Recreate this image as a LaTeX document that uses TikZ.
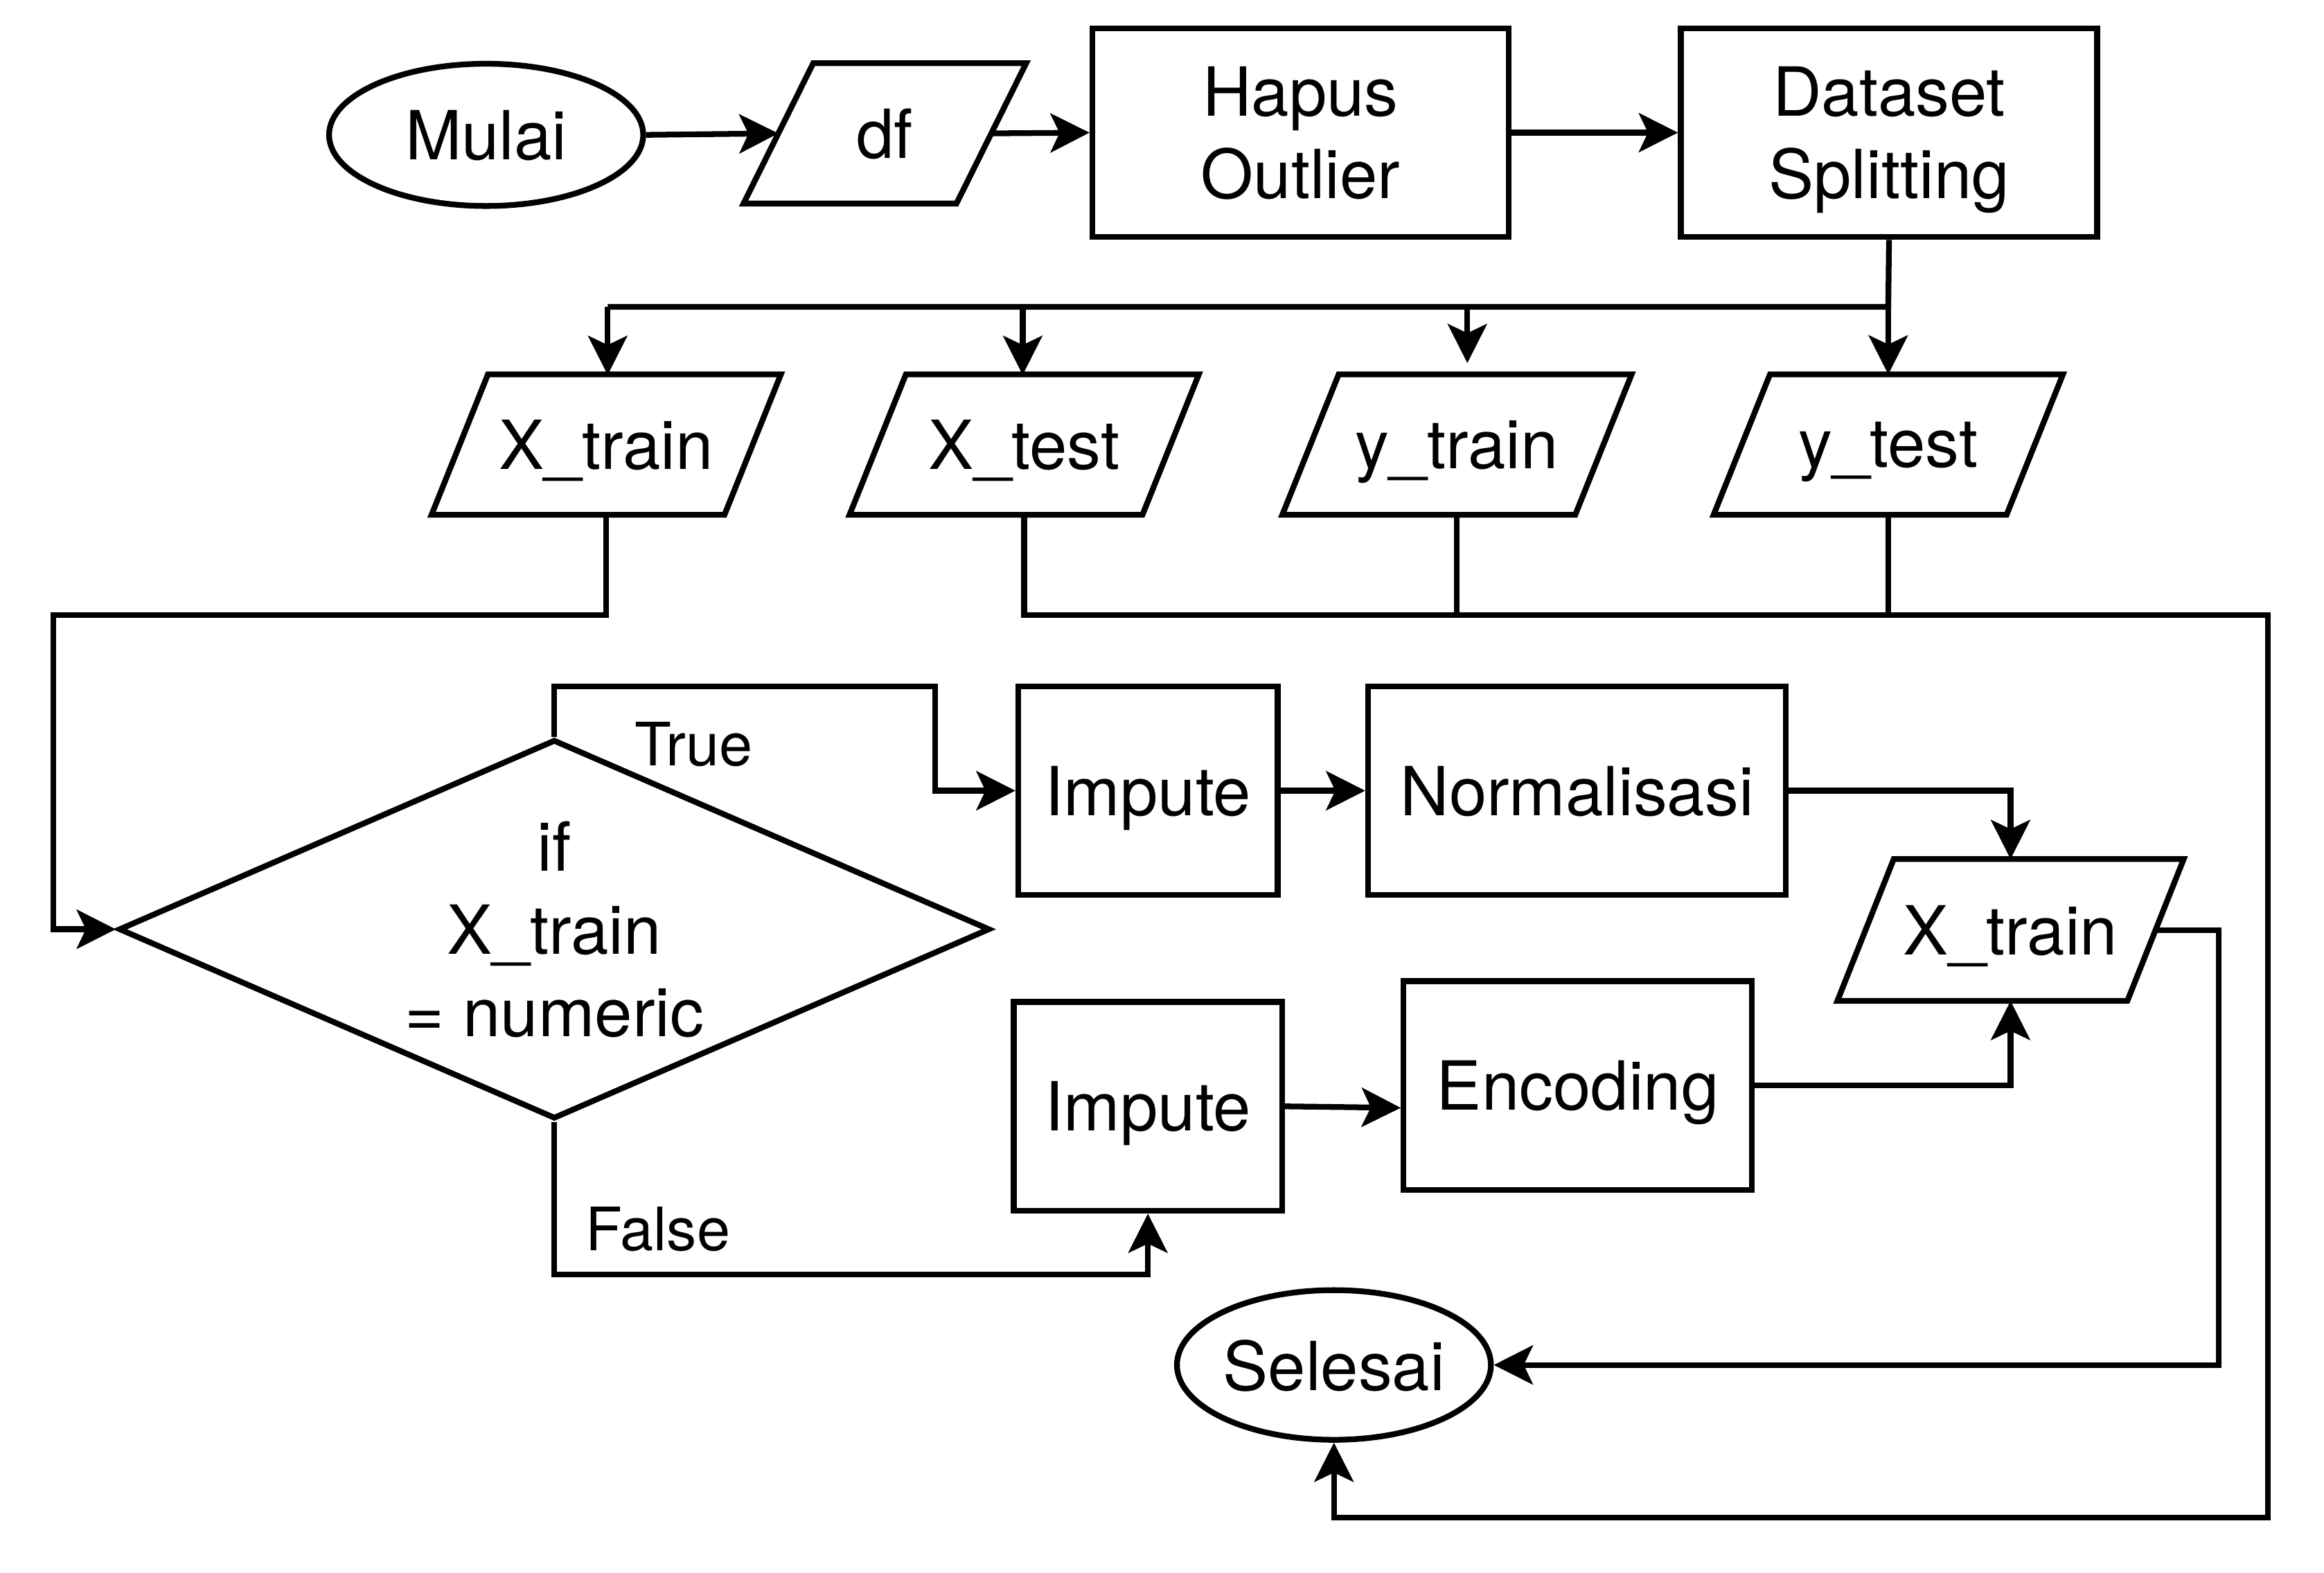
\documentclass[tikz,border=0pt]{standalone}
\usepackage{fontspec}
\setmainfont{TeX Gyre Heros}
\usetikzlibrary{shapes.geometric,arrows.meta,calc}
\begin{document}
\begin{tikzpicture}[x=0.02cm,y=-0.02cm,
  every node/.style={font=\fontsize{26}{31.8}\selectfont, inner sep=0pt, align=center, text depth=0pt},
  ln/.style={line width=2.2pt},
  arr/.style={ln,-{Stealth[length=15pt,width=15pt,inset=3.5pt]}},
  box/.style={draw, line width=2.2pt, minimum height=2.82cm},
  term/.style={draw, line width=2.2pt, ellipse},
  para/.style={minimum width=4.7cm, minimum height=1.88cm},
  lbl/.style={font=\fontsize{23}{27}\selectfont}
]
\useasboundingbox (0,0) rectangle (1568,1061);

% nodes
\node[term, minimum width=4.24cm, minimum height=1.92cm] (mulai) at (328,91) {Mulai};
\node[minimum width=3.8cm, minimum height=1.88cm] (df) at (597,90) {df};
\node[box, minimum width=5.62cm] (hapus) at (877.5,89.5) {Hapus\\Outlier};
\node[box, minimum width=5.62cm] (dataset) at (1274.5,89.5) {Dataset\\Splitting};

\node[para] (xtr) at (409,300) {X\_train};
\node[para] (xte) at (691,300) {X\_test};
\node[para] (ytr) at (983,300) {y\_train};
\node[para] (yte) at (1274,300) {y\_test};

\node[draw, line width=2.2pt, diamond, shape aspect=2.3, minimum width=11.76cm, minimum height=5.12cm] (dia) at (374,627) {if\\X\_train\\= numeric};

\node[box, minimum width=3.5cm] (imp1) at (774.5,533.5) {Impute};
\node[box, minimum width=5.64cm] (norm) at (1064,533.5) {Normalisasi};
\node[box, minimum width=3.62cm] (imp2) at (774.5,746.5) {Impute};
\node[box, minimum width=4.7cm] (enc) at (1064.5,732.5) {Encoding};
\node[minimum width=4.66cm, minimum height=1.9cm] (xtr2) at (1356.5,627.5) {X\_train};
\node[term, minimum width=4.2cm, minimum height=2.02cm] (sel) at (900,921) {Selesai};

\node[lbl] (ltrue) at (468,502) {True};
\node[lbl] (lfalse) at (444,829) {False};

% parallelogram outlines
\foreach \n/\s in {df/47, xtr/38, xte/38, ytr/38, yte/38, xtr2/38}
  \draw[ln] ($(\n.north west)+(\s,0)$) -- (\n.north east) -- ($(\n.south east)-(\s,0)$) -- (\n.south west) -- cycle;

% connectors
\draw[arr] (mulai.east) -- ($(df.west)+(23.5,0)$);
\draw[arr] ($(df.east)-(23.5,0)$) -- (hapus.west);
\draw[arr] (hapus.east) -- (dataset.west);

\coordinate (sp) at (1274,207);
\coordinate (ytrin) at (990,245);
\draw[ln] (dataset.south) -- (sp) -- (410,207);
\draw[arr] (410,207) -- (410,253);
\draw[arr] (690,207) -- (690,253);
\draw[arr] (ytrin |- sp) -- (ytrin);
\draw[arr] (sp) -- (yte.north);

\draw[arr] (xtr.south) |- (36,415) |- (dia.west);
\draw[arr] (xte.south) |- (1530,415) |- (900,1024) -- (sel.south);
\draw[ln] (ytr.south) -- (ytr.south |- 0,415);
\draw[ln] (yte.south) -- (yte.south |- 0,415);

\draw[arr] (dia.north) |- (631,463) |- (imp1.west);
\draw[arr] (imp1.east) -- (norm.west);
\draw[arr] (norm.east) -| (xtr2.north);
\draw[arr] (dia.south) -- (374,860) -| (imp2.south);
\draw[arr] (imp2.east) -- ($(enc.west)+(0,15)$);
\draw[arr] (enc.east) -| (xtr2.south);
\draw[arr] ($(xtr2.east)-(19,0)$) -| (1497,921) -- (sel.east);
\end{tikzpicture}
\end{document}
